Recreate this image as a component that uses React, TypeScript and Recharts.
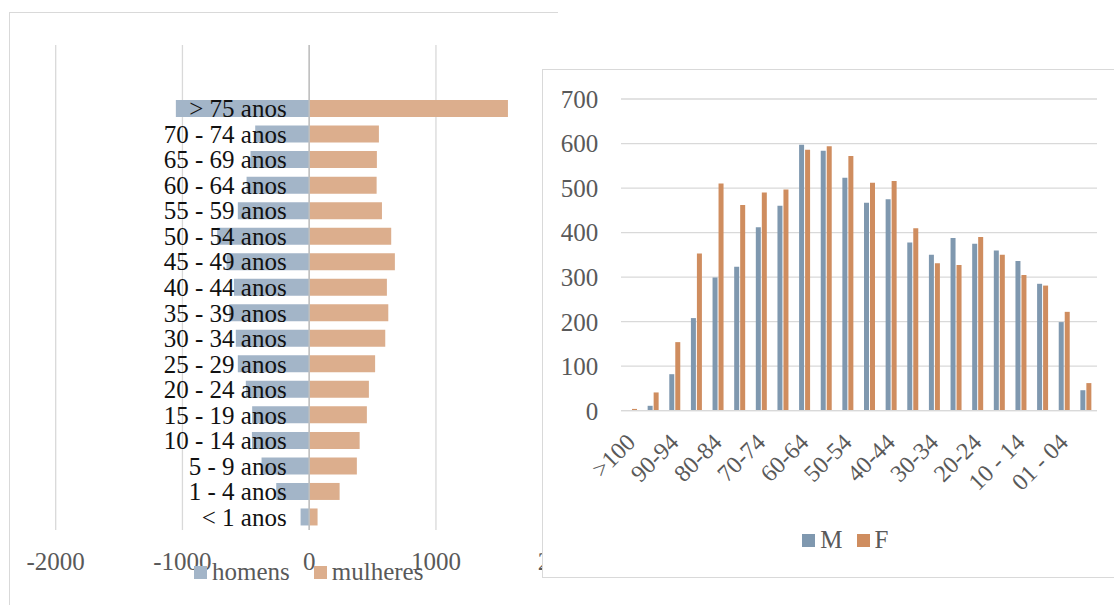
import React from "react";
import {
  Bar,
  BarChart,
  CartesianGrid,
  LabelList,
  Legend,
  ReferenceLine,
  XAxis,
  YAxis,
} from "recharts";

// left chart: population pyramid
const pyramidLabels = [
  "> 75 anos",
  "70 - 74 anos",
  "65 - 69 anos",
  "60 - 64 anos",
  "55 - 59 anos",
  "50 - 54 anos",
  "45 - 49 anos",
  "40 - 44 anos",
  "35 - 39 anos",
  "30 - 34 anos",
  "25 - 29 anos",
  "20 - 24 anos",
  "15 - 19 anos",
  "10 - 14 anos",
  "5 - 9 anos",
  "1 - 4 anos",
  "< 1 anos",
];
const homens = [1052, 426, 463, 494, 563, 726, 652, 594, 631, 579, 563, 500, 450, 452, 376, 260, 68];
const mulheres = [1568, 550, 534, 532, 574, 647, 676, 613, 624, 600, 520, 471, 455, 398, 376, 240, 66];
const pyramidTicks = [-2000, -1000, 0, 1000, 2000];

// right chart: grouped columns
const ageGroups = [
  ">100", "95-99", "90-94", "85-89", "80-84", "75-79", "70-74", "65-69",
  "60-64", "55-59", "50-54", "45-49", "40-44", "35-39", "30-34", "25-29",
  "20-24", "15-19", "10 - 14", "05 - 09", "01 - 04", "< 01",
];
const maleCounts = [0, 11, 82, 208, 299, 323, 412, 460, 597, 584, 523, 467, 475, 378, 350, 388, 375, 360, 336, 285, 199, 46];
const femaleCounts = [4, 41, 154, 353, 510, 462, 490, 497, 586, 594, 572, 512, 516, 410, 331, 327, 390, 350, 305, 281, 222, 62];
const countTicks = [0, 100, 200, 300, 400, 500, 600, 700];

// two blank rows sit above the pyramid in the original sheet
const pyramidData = [
  { label: "", homens: null, mulheres: null },
  { label: " ", homens: null, mulheres: null },
  ...pyramidLabels.map((label, i) => ({
    label,
    homens: -homens[i],
    mulheres: mulheres[i],
  })),
];

const columnData = ageGroups.map((group, i) => ({
  group,
  M: maleCounts[i],
  F: femaleCounts[i],
}));

const FONT = "'Liberation Serif', 'Times New Roman', serif";
const GRID = "#D9D9D9";
const TICK = "#595959";

// legend sorts by name by default, keep series order instead
function legendContent(itemGap: number, order: string[]) {
  return (props: any) => {
    const items = [...(props.payload || [])].sort(
      (a: any, b: any) => order.indexOf(a.value) - order.indexOf(b.value)
    );
    return (
      <div
        style={{
          display: "flex",
          alignItems: "center",
          fontFamily: FONT,
          fontSize: 25,
          lineHeight: "20px",
          color: TICK,
          whiteSpace: "nowrap",
        }}
      >
        {items.map((entry: any) => (
          <span
            key={entry.value}
            style={{ display: "flex", alignItems: "center", marginRight: itemGap }}
          >
            <span
              style={{
                width: 13,
                height: 13,
                background: entry.color,
                marginRight: 5,
                display: "inline-block",
              }}
            />
            <span>{entry.value}</span>
          </span>
        ))}
      </div>
    );
  };
}

function AgeLabel(props: any) {
  const { x, y, height, value } = props;
  if (!value || !value.trim()) return null;
  return (
    <text
      x={x - 22.5}
      y={y + height / 2}
      dy="0.35em"
      textAnchor="end"
      fontFamily={FONT}
      fontSize={25}
      fill="#111"
    >
      {value}
    </text>
  );
}

function SlantTick(props: any) {
  const { x, y, payload } = props;
  const tx = x + 5;
  const ty = y + 33;
  return (
    <text
      x={tx}
      y={ty}
      textAnchor="end"
      transform={`rotate(-45 ${tx} ${ty})`}
      fontFamily={FONT}
      fontSize={24}
      fill={TICK}
    >
      {payload.value}
    </text>
  );
}

function Pyramid() {
  return (
    <div
      style={{
        position: "absolute",
        left: 0,
        top: 0,
        width: 558,
        height: 605,
        overflow: "hidden",
      }}
    >
      <div
        style={{
          position: "absolute",
          left: 9,
          top: 12,
          width: 700,
          height: 700,
          border: `1px solid ${GRID}`,
        }}
      />
      <div style={{ position: "absolute", left: 0, top: 0 }}>
        <BarChart
          width={700}
          height={605}
          data={pyramidData}
          layout="vertical"
          stackOffset="sign"
          margin={{ top: 45, right: 137.3, left: 55.7, bottom: 35 }}
        >
          <CartesianGrid horizontal={false} stroke={GRID} strokeWidth={1.3} />
          <XAxis
            type="number"
            domain={[-2000, 2000]}
            ticks={pyramidTicks}
            tickLine={false}
            axisLine={false}
            tickSize={0}
            tickMargin={22}
            height={40}
            tick={{ fill: TICK, fontSize: 25, fontFamily: FONT }}
          />
          <YAxis type="category" dataKey="label" hide />
          <Bar
            dataKey="homens"
            name="homens"
            stackId="pyr"
            fill="#A3B5C8"
            barSize={17}
            isAnimationActive={false}
          />
          <Bar
            dataKey="mulheres"
            name="mulheres"
            stackId="pyr"
            fill="#DCAE8D"
            barSize={17}
            isAnimationActive={false}
          >
            <LabelList dataKey="label" content={AgeLabel} />
          </Bar>
          <ReferenceLine x={0} stroke="#BFBFBF" strokeWidth={1.5} />
          <Legend
            layout="horizontal"
            verticalAlign="middle"
            align="center"
            content={legendContent(24, ["homens", "mulheres"])}
            wrapperStyle={{ left: 194, top: 562, width: "auto" }}
          />
        </BarChart>
      </div>
    </div>
  );
}

function Columns() {
  return (
    <div
      style={{
        position: "absolute",
        left: 542,
        top: 69,
        width: 600,
        height: 509,
        boxSizing: "border-box",
        border: `1px solid ${GRID}`,
        background: "#fff",
      }}
    >
      <div style={{ position: "absolute", left: 0, top: 0 }}>
        <BarChart
          width={571}
          height={505}
          data={columnData}
          barGap={1}
          margin={{ top: 29, right: 17, left: 18, bottom: 64.3 }}
        >
          <CartesianGrid vertical={false} stroke={GRID} strokeWidth={1.3} />
          <XAxis
            dataKey="group"
            interval={1}
            tickLine={false}
            tickSize={0}
            tickMargin={0}
            height={100}
            axisLine={{ stroke: GRID, strokeWidth: 1.3 }}
            tick={<SlantTick />}
          />
          <YAxis
            domain={[0, 700]}
            ticks={countTicks}
            tickLine={false}
            axisLine={false}
            tickSize={0}
            tickMargin={22.7}
            width={60}
            tick={{ fill: TICK, fontSize: 25, fontFamily: FONT }}
          />
          <Bar dataKey="M" name="M" fill="#7F98AF" barSize={5} isAnimationActive={false} />
          <Bar dataKey="F" name="F" fill="#CF8D5F" barSize={5} isAnimationActive={false} />
          <Legend
            layout="horizontal"
            verticalAlign="middle"
            align="center"
            content={legendContent(14, ["M", "F"])}
            wrapperStyle={{ left: 259.3, top: 460, width: "auto" }}
          />
        </BarChart>
      </div>
    </div>
  );
}

export default function App() {
  return (
    <div
      style={{
        position: "absolute",
        left: 0,
        top: 0,
        width: 1114,
        height: 605,
        overflow: "hidden",
        background: "#fff",
        fontFamily: FONT,
      }}
    >
      <Pyramid />
      <Columns />
    </div>
  );
}
